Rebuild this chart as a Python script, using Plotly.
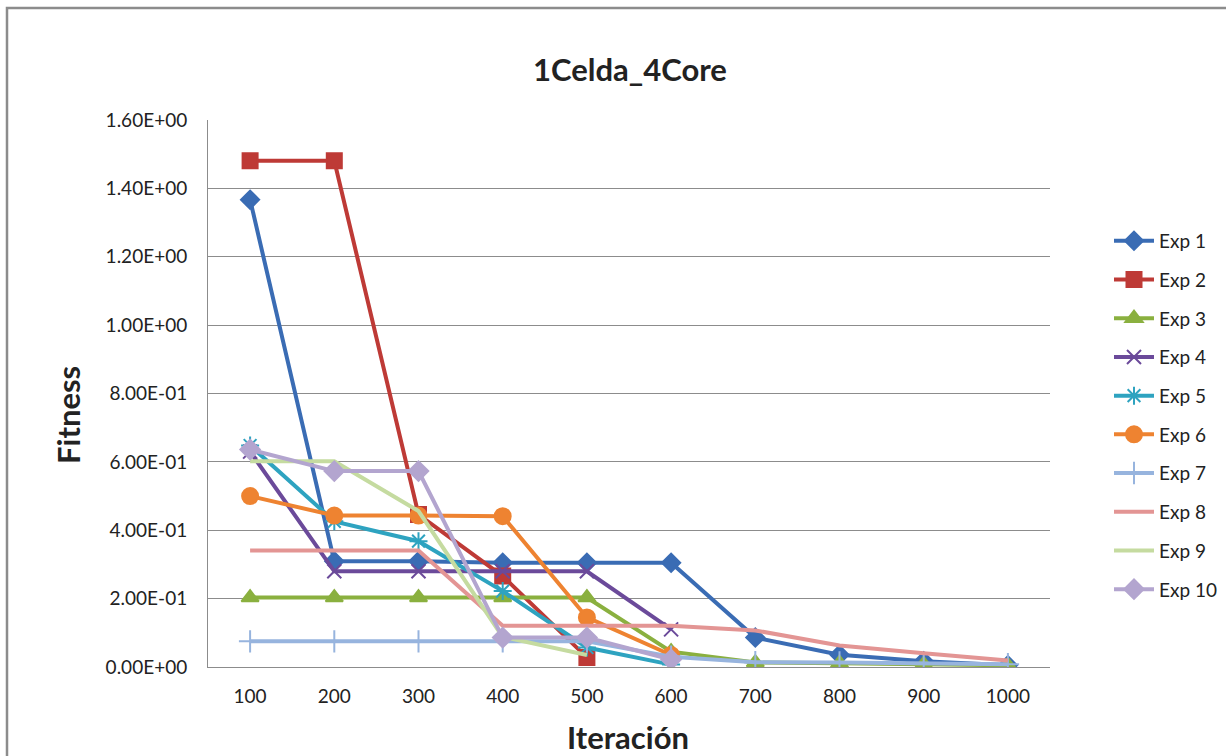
import plotly.graph_objects as go

iterations = [100, 200, 300, 400, 500, 600, 700, 800, 900, 1000]

exp1 = [1.367, 0.309, 0.309, 0.305, 0.305, 0.305, 0.086, 0.036, 0.017, 0.005]
exp2 = [1.481, 1.481, 0.446, 0.266, 0.028]
exp3 = [0.203, 0.203, 0.203, 0.203, 0.203, 0.045, 0.013, 0.011, 0.008, 0.005]
exp4 = [0.63, 0.28, 0.28, 0.28, 0.28, 0.11]
exp5 = [0.648, 0.426, 0.368, 0.222, 0.057, 0.007]
exp6 = [0.50, 0.443, 0.443, 0.441, 0.145, 0.035]
exp7 = [0.075, 0.075, 0.075, 0.075, 0.075, 0.03, 0.014, 0.013, 0.011, 0.008]
exp8 = [0.341, 0.341, 0.341, 0.121, 0.121, 0.121, 0.107, 0.063, 0.040, 0.019]
exp9 = [0.602, 0.602, 0.456, 0.088, 0.035]
exp10 = [0.636, 0.573, 0.573, 0.086, 0.086, 0.022]

series = [exp1, exp2, exp3, exp4, exp5, exp6, exp7, exp8, exp9, exp10]
names = ["Exp 1", "Exp 2", "Exp 3", "Exp 4", "Exp 5", "Exp 6", "Exp 7", "Exp 8", "Exp 9", "Exp 10"]
colors = ["#3A6CB4", "#BE3A36", "#8AB03F", "#6B4A9A", "#2EA3C0", "#EE8331",
          "#97B4DE", "#E39594", "#C5DBA0", "#B3A5CF"]
symbols = ["diamond", "square", "triangle-up", "x-thin-open", "asterisk-open", "circle",
           "cross-thin-open", None, None, "diamond"]
sizes = [14, 15, 15, 14, 15, 16, 16, 0, 0, 15]

ytick_vals = [0, 0.2, 0.4, 0.6, 0.8, 1.0, 1.2, 1.4, 1.6]
ytick_text = ["0.00E+00", "2.00E-01", "4.00E-01", "6.00E-01", "8.00E-01",
              "1.00E+00", "1.20E+00", "1.40E+00", "1.60E+00"]

FONT = "Lato, Open Sans, sans-serif"
TXT = "#222222"

fig = go.Figure()
for i, (vals, nm, col, sym, sz) in enumerate(zip(series, names, colors, symbols, sizes)):
    marker = dict(color=col, size=sz, line=dict(color=col, width=2))
    mode = "lines+markers" if sym else "lines"
    if sym:
        marker["symbol"] = sym
    fig.add_trace(go.Scatter(
        x=iterations[:len(vals)], y=vals, name=nm, mode=mode,
        line=dict(color=col, width=4), marker=marker,
        legendgroup=f"g{i}",
    ))

pw, ph = 842, 547
fig.update_layout(
    width=1226, height=756,
    margin=dict(l=208, r=176, t=120, b=89, autoexpand=False),
    paper_bgcolor="white", plot_bgcolor="white",
    font=dict(family=FONT, size=19, color=TXT),
    title=dict(text="<b>1Celda_4Core</b>", x=(630 - 208) / pw, xref="paper",
               xanchor="center", y=1 - 70 / 756, yanchor="middle",
               font=dict(size=31, color=TXT)),
    showlegend=True,
    legend=dict(xref="container", yref="container", x=1109 / 1226, xanchor="left",
                y=1 - 222 / 756, yanchor="top", maxheight=700,
                traceorder="grouped", tracegroupgap=11,
                font=dict(size=19, color=TXT), itemwidth=40),
    xaxis=dict(range=[50, 1050], tickvals=iterations, showgrid=False,
               zeroline=False, showline=True, linecolor="#8C8C8C", linewidth=1,
               ticks="", tickfont=dict(size=19), ticklabelstandoff=12),
    yaxis=dict(range=[0, 1.6], tickvals=ytick_vals, ticktext=ytick_text,
               showgrid=True, gridcolor="#8C8C8C", gridwidth=1, zeroline=False,
               showline=True, linecolor="#8C8C8C", linewidth=1, ticks="",
               tickfont=dict(size=19), ticklabelstandoff=16),
    annotations=[
        dict(text="<b>Fitness</b>", xref="paper", yref="paper",
             x=(68 - 208) / pw, y=(667 - 415) / ph, textangle=-90,
             xanchor="center", yanchor="middle", showarrow=False,
             font=dict(size=31, color=TXT)),
        dict(text="<b>Iteración</b>", xref="paper", yref="paper",
             x=(628 - 208) / pw, y=(667 - 737) / ph,
             xanchor="center", yanchor="middle", showarrow=False,
             font=dict(size=31, color=TXT)),
    ],
    shapes=[dict(type="rect", xref="paper", yref="paper",
                 x0=(7 - 208) / pw, x1=(1232 - 208) / pw,
                 y0=(667 - 770) / ph, y1=(667 - 8) / ph,
                 line=dict(color="#8C8C8C", width=2.5), fillcolor="rgba(0,0,0,0)",
                 layer="below")],
)

fig.write_html("out.html")
